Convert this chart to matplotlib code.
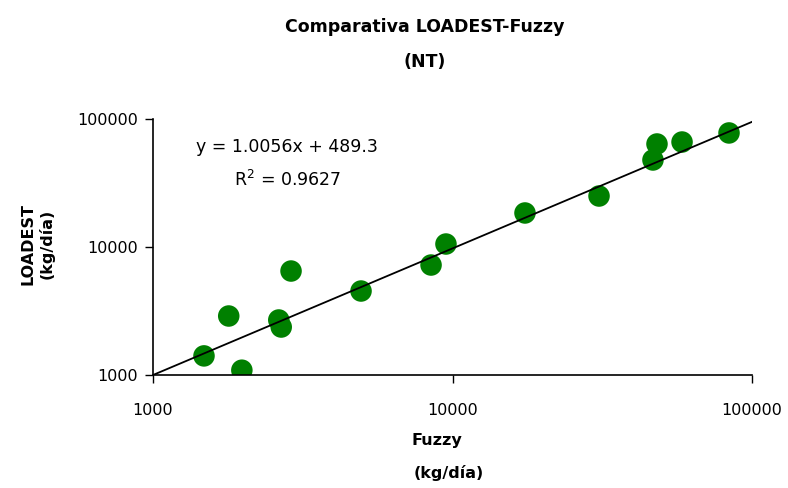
import matplotlib
matplotlib.use("Agg")
import matplotlib.pyplot as plt
from matplotlib.ticker import FixedLocator, NullLocator

# Fuzzy vs LOADEST daily loads (kg/día)
fuzzy = [1480, 1790, 1980, 2630, 2680, 2890, 4950, 8480, 9510,
         17460, 30850, 46700, 48170, 58400, 83800]
loadest = [1410, 2890, 1090, 2690, 2370, 6490, 4530, 7230, 10550,
           18440, 25020, 47840, 63800, 66100, 77800]

line_x = [1000, 100000]
line_y = [1000, 95000]

ticks = [1000, 10000, 100000]
tick_labels = ["1000", "10000", "100000"]

plt.rcParams["font.family"] = ["DejaVu Sans"]

fig = plt.figure(figsize=(7.88, 4.88), dpi=100)
ax = fig.add_axes([153 / 788, 113 / 488, 599 / 788, 256 / 488])

ax.scatter(fuzzy, loadest, s=240, color="#008000", edgecolor="none", zorder=2)
ax.plot(line_x, line_y, color="black", lw=1.3, zorder=3)

ax.set_xscale("log")
ax.set_yscale("log")
ax.set_xlim(1000, 100000)
ax.set_ylim(1000, 100000)
for axis in (ax.xaxis, ax.yaxis):
    axis.set_major_locator(FixedLocator(ticks))
    axis.set_minor_locator(NullLocator())
ax.set_xticklabels(tick_labels)
ax.set_yticklabels(tick_labels)
ax.tick_params(direction="out", length=6, width=1, labelsize=11.5, pad=14)
ax.tick_params(axis="y", pad=5)

for side in ("top", "right"):
    ax.spines[side].set_visible(False)
for side in ("left", "bottom"):
    ax.spines[side].set_linewidth(1.2)

fig.text(425 / 788, 1 - 27 / 488, "Comparativa LOADEST-Fuzzy", ha="center", va="center",
         fontsize=12.5, fontweight="bold")
fig.text(425 / 788, 1 - 62 / 488, "(NT)", ha="center", va="center",
         fontsize=12.5, fontweight="bold")

fig.text(437 / 788, 1 - 440 / 488, "Fuzzy", ha="center", va="center",
         fontsize=11.5, fontweight="bold")
fig.text(449 / 788, 1 - 473 / 488, "(kg/día)", ha="center", va="center",
         fontsize=11.5, fontweight="bold")
fig.text(28 / 788, 1 - 244 / 488, "LOADEST", ha="center", va="center", rotation=90,
         fontsize=11.5, fontweight="bold")
fig.text(47 / 788, 1 - 244 / 488, "(kg/día)", ha="center", va="center", rotation=90,
         fontsize=11.5, fontweight="bold")

fig.text(287 / 788, 1 - 147 / 488, "y = 1.0056x + 489.3", ha="center", va="center",
         fontsize=12.5)
fig.text(288 / 788, 1 - 180 / 488, "R$^2$ = 0.9627", ha="center", va="center",
         fontsize=12.5)

fig.savefig("out.png", dpi=100, facecolor="white")
